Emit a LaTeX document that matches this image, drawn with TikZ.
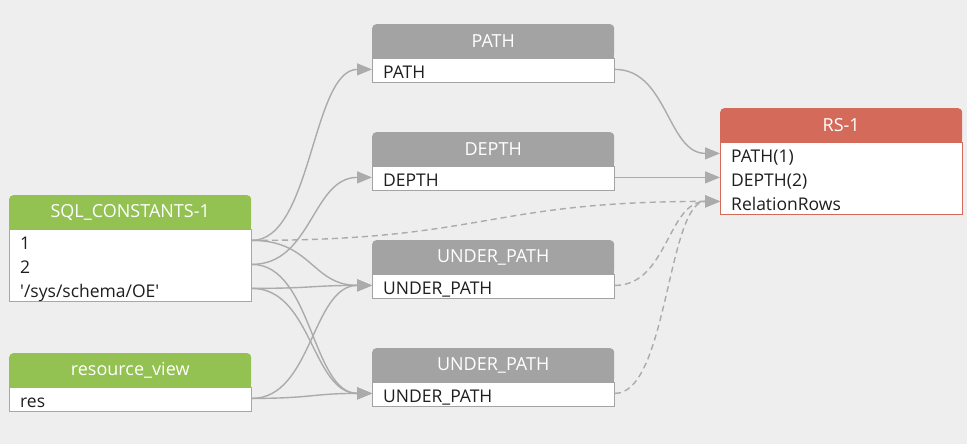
\documentclass[tikz,border=0pt]{standalone}
\usepackage{fontspec}
\setmainfont{Open Sans}
\usetikzlibrary{arrows.meta,calc}
\definecolor{cbg}{HTML}{EEEEEE}
\definecolor{cgreen}{HTML}{93C152}
\definecolor{cgray}{HTML}{A3A3A3}
\definecolor{cred}{HTML}{D46B5A}
\definecolor{cedge}{HTML}{ABABAB}
\definecolor{ctext}{HTML}{1E1E1E}
\tikzset{
  hdr/.style={rectangle, rounded corners=4pt, minimum width=242pt, minimum height=34pt, inner sep=0pt, anchor=north west},
  hdrtxt/.style={inner sep=0pt, text=white, font=\fontsize{18}{20}\selectfont},
  bodybox/.style={rectangle, fill=white, line width=1pt, minimum width=242pt, inner sep=0pt, anchor=north west},
  rowtxt/.style={inner sep=0pt, text=ctext, font=\fontsize{17.5}{20}\selectfont, anchor=base west},
  edge/.style={draw=cedge, line width=1.4pt, -{Triangle[length=15pt,width=12pt,fill=cedge]}},
  dashedge/.style={edge, dash pattern=on 6pt off 4pt},
}
\newcommand\tblbox[6]{% name, x, y, color, title, body height
  \node[hdr, fill=#4] (#1h) at (#2,#3) {};
  \fill[#4] (#1h.west) rectangle (#1h.south east);
  \node[hdrtxt] (#1ht) at (#1h.center) {#5};
  \node[bodybox, draw=#4, minimum height=#6] (#1b) at (#1h.south west) {};
}
\newcommand\lnk[3][]{\draw[edge,#1] let \p1=(#2), \p2=(#3), \n1={(\x2-\x1)/2} in (\p1) .. controls (\x1+\n1,\y1) and (\x2-\n1,\y2) .. (\p2);}
\begin{document}
\begin{tikzpicture}[x=1pt,y=-1pt]
\fill[cbg] (0,0) rectangle (967,444);
\useasboundingbox (0,0) rectangle (967,444);

% tables
\tblbox{sql}{9}{195}{cgreen}{SQL\_CONSTANTS-1}{72pt}
\tblbox{rv}{9}{353}{cgreen}{resource\_view}{24pt}
\tblbox{pa}{372}{24}{cgray}{PATH}{24pt}
\tblbox{de}{372}{132}{cgray}{DEPTH}{24pt}
\tblbox{ua}{372}{240}{cgray}{UNDER\_PATH}{24pt}
\tblbox{ub}{372}{348}{cgray}{UNDER\_PATH}{24pt}
\tblbox{rs}{720}{108}{cred}{RS-1}{72pt}

% row texts
\node[rowtxt] (sqlt1) at ([xshift=11pt,yshift=-20pt]sqlb.north west) {1};
\node[rowtxt] (sqlt2) at ([xshift=11pt,yshift=-44pt]sqlb.north west) {2};
\node[rowtxt] (sqlt3) at ([xshift=11pt,yshift=-68pt]sqlb.north west) {\textquotesingle/sys/schema/OE\textquotesingle};
\node[rowtxt] (rvt1) at ([xshift=11pt,yshift=-20pt]rvb.north west) {res};
\node[rowtxt] (pat1) at ([xshift=11pt,yshift=-20pt]pab.north west) {PATH};
\node[rowtxt] (det1) at ([xshift=11pt,yshift=-20pt]deb.north west) {DEPTH};
\node[rowtxt] (uat1) at ([xshift=11pt,yshift=-20pt]uab.north west) {UNDER\_PATH};
\node[rowtxt] (ubt1) at ([xshift=11pt,yshift=-20pt]ubb.north west) {UNDER\_PATH};
\node[rowtxt] (rst1) at ([xshift=11pt,yshift=-20pt]rsb.north west) {PATH(1)};
\node[rowtxt] (rst2) at ([xshift=11pt,yshift=-44pt]rsb.north west) {DEPTH(2)};
\node[rowtxt] (rst3) at ([xshift=11pt,yshift=-68pt]rsb.north west) {RelationRows};

% ports
\coordinate (sqlo1) at ([yshift=-11pt]sqlb.north east);
\coordinate (sqlo2) at ([yshift=-35pt]sqlb.north east);
\coordinate (sqlo3) at ([yshift=-59pt]sqlb.north east);
\coordinate (rvo1) at ([yshift=-11pt]rvb.north east);
\coordinate (pai) at ([yshift=-11pt]pab.north west);
\coordinate (pao) at ([yshift=-11pt]pab.north east);
\coordinate (dei) at ([yshift=-11pt]deb.north west);
\coordinate (deo) at ([yshift=-11pt]deb.north east);
\coordinate (uai) at ([yshift=-11pt]uab.north west);
\coordinate (uao) at ([yshift=-11pt]uab.north east);
\coordinate (ubi) at ([yshift=-11pt]ubb.north west);
\coordinate (ubo) at ([yshift=-11pt]ubb.north east);
\coordinate (rsi1) at ([yshift=-11pt]rsb.north west);
\coordinate (rsi2) at ([yshift=-35pt]rsb.north west);
\coordinate (rsi3) at ([yshift=-59pt]rsb.north west);

% edges
\lnk{sqlo1}{pai}
\lnk{sqlo2}{dei}
\lnk{sqlo1}{uai}
\lnk{sqlo3}{uai}
\lnk{rvo1}{uai}
\lnk{sqlo2}{ubi}
\lnk{sqlo3}{ubi}
\lnk{rvo1}{ubi}
\lnk{pao}{rsi1}
\lnk{deo}{rsi2}
\lnk[dashedge]{sqlo1}{rsi3}
\lnk[dashedge]{uao}{rsi3}
\lnk[dashedge]{ubo}{rsi3}
\end{tikzpicture}
\end{document}
